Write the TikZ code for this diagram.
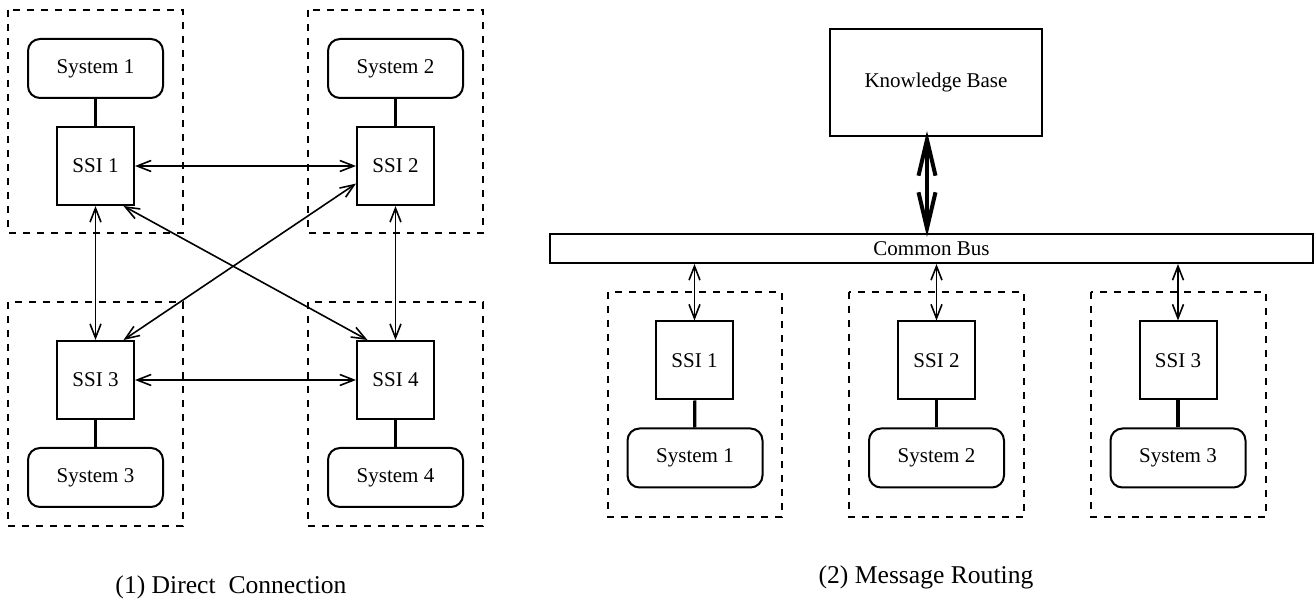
\documentclass[tikz,border=0pt]{standalone}
\usepackage{fontspec}
\setmainfont{Liberation Serif}
\usetikzlibrary{arrows.meta}

\begin{document}
\begin{tikzpicture}[x=0.5pt,y=-0.5pt,>={Straight Barb[length=7pt,width=5.5pt]},
	ssibox/.style={draw,line width=1pt,minimum width=38.5pt,minimum height=39pt,inner sep=1pt,font=\fontsize{10.5}{12}\selectfont},
	sysbox/.style={draw,line width=1pt,rounded corners=6pt,minimum width=67.5pt,minimum height=29.5pt,inner sep=1pt,font=\fontsize{10.5}{12}\selectfont},
	link/.style={line width=1.6pt},
	msg/.style={<->,line width=0.8pt},
	group/.style={line width=0.75pt,dash pattern=on 3.5pt off 3.5pt},
	caption/.style={font=\fontsize{12.8}{15}\selectfont}]
		\useasboundingbox (0,0) rectangle (1314,604);

		% (1) direct connection
		\draw[group] (8,10) rectangle (183,233);
		\draw[group] (308,10) rectangle (483,233);
		\draw[group] (8,302) rectangle (183,526);
		\draw[group] (308,302) rectangle (483,526);

		\node[sysbox] (sysA) at (95.5,68.5) {System 1};
		\node[ssibox] (ssiA) at (95.5,166) {SSI 1};
		\node[sysbox] (sysB) at (395.5,68.5) {System 2};
		\node[ssibox] (ssiB) at (395.5,166) {SSI 2};
		\node[ssibox] (ssiC) at (95.5,380) {SSI 3};
		\node[sysbox] (sysC) at (95.5,477.5) {System 3};
		\node[ssibox] (ssiD) at (395.5,380) {SSI 4};
		\node[sysbox] (sysD) at (395.5,477.5) {System 4};

		\draw[link] (sysA) -- (ssiA);
		\draw[link] (sysB) -- (ssiB);
		\draw[link] (ssiC) -- (sysC);
		\draw[link] (ssiD) -- (sysD);

		\draw[msg] (ssiA.east) -- (ssiB.west);
		\draw[msg] (ssiC.east) -- (ssiD.west);
		\draw[msg] (ssiA.south) -- (ssiC.north);
		\draw[msg] (ssiB.south) -- (ssiD.north);
		\draw[msg] (ssiA.-55) -- (ssiD.125);
		\draw[msg] (ssiB.204) -- (ssiC.55);

		\node[caption] (capA) at (231,587) {(1) Direct\ \ Connection};

		% (2) message routing
		\node[draw,line width=1pt,minimum width=106pt,minimum height=53.5pt,font=\fontsize{10.5}{12}\selectfont] (kb) at (936,82.5) {Knowledge Base};
		\node[draw,line width=1pt,minimum width=381.5pt,minimum height=14.5pt,inner sep=0pt,font=\fontsize{10.5}{12}\selectfont] (bus) at (931.5,248.5) {Common Bus};
		\draw[<->,line width=2pt,>={Straight Barb[length=18pt,width=8.5pt]},shorten <=-3pt,shorten >=-2pt]
			([xshift=-4.5pt]kb.south) -- ([xshift=-4.5pt]kb.south |- bus.north);

		\draw[group] (608,292) rectangle (782,517);
		\draw[group] (849,292) rectangle (1024,517);
		\draw[group] (1091,292) rectangle (1266,517);

		\node[ssibox] (ssiE) at (694.5,360.5) {SSI 1};
		\node[sysbox] (sysE) at (695,458) {System 1};
		\node[ssibox] (ssiF) at (936.5,360.5) {SSI 2};
		\node[sysbox] (sysF) at (936.5,458) {System 2};
		\node[ssibox] (ssiG) at (1178,360.5) {SSI 3};
		\node[sysbox] (sysG) at (1178,458) {System 3};

		\draw[link] (ssiE) -- (sysE);
		\draw[link] (ssiF) -- (sysF);
		\draw[link] (ssiG) -- (sysG);

		\draw[msg] (ssiE.north |- bus.south) -- (ssiE.north);
		\draw[msg] (ssiF.north |- bus.south) -- (ssiF.north);
		\draw[msg] (ssiG.north |- bus.south) -- (ssiG.north);

		\node[caption] (capB) at (926,577) {(2) Message Routing};

	\end{tikzpicture}
\end{document}
